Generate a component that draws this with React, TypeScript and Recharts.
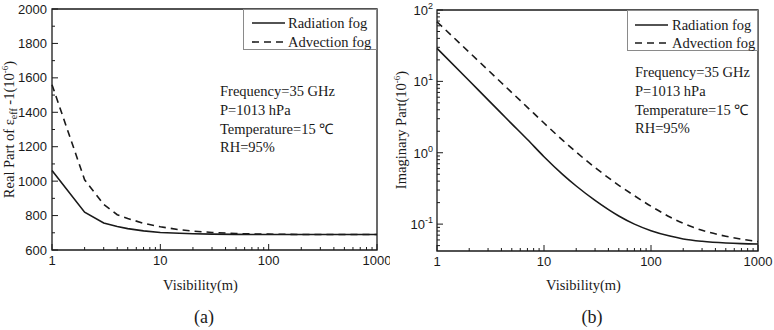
import React from "react";
import { LineChart, Line, XAxis, YAxis, ReferenceArea, Legend } from "recharts";

// visibility (m), log x-axis
const visibility = [1, 2, 3, 4, 5, 7, 10, 15, 20, 30, 50, 70, 100, 150, 200, 300, 500, 700, 1000];

// (a) real part of eps_eff - 1 (x 1e-6)
const realRadiation = [1062, 820, 757, 737, 724, 711, 702, 697, 694, 692, 691, 690, 690, 690, 690, 690, 690, 690, 690];
const realAdvection = [1560, 1008, 865, 805, 783, 755, 735, 718, 710, 702, 696, 693, 692, 691, 690, 690, 690, 690, 690];

// (b) imaginary part (x 1e-6)
const imagRadiation = [29, 10.2, 5.5, 3.56, 2.54, 1.53, 0.879, 0.494, 0.342, 0.215, 0.13, 0.1, 0.081, 0.068, 0.062, 0.0574, 0.0543, 0.0532, 0.0526];
const imagAdvection = [68.4, 25.6, 14.4, 9.57, 6.97, 4.33, 2.61, 1.49, 1.02, 0.621, 0.35, 0.25, 0.178, 0.126, 0.1026, 0.082, 0.0676, 0.0615, 0.0569];

const xTicks = [1, 2, 3, 4, 5, 6, 7, 8, 9, 10, 20, 30, 40, 50, 60, 70, 80, 90, 100, 200, 300, 400, 500, 600, 700, 800, 900, 1000];
const realTicks = [600, 700, 800, 900, 1000, 1100, 1200, 1300, 1400, 1500, 1600, 1700, 1800, 1900, 2000];
const imagTicks = [
  0.05, 0.06, 0.07, 0.08, 0.09, 0.1, 0.2, 0.3, 0.4, 0.5, 0.6, 0.7, 0.8, 0.9,
  1, 2, 3, 4, 5, 6, 7, 8, 9, 10, 20, 30, 40, 50, 60, 70, 80, 90, 100,
];

const notes = ["Frequency=35 GHz", "P=1013 hPa", "Temperature=15 \u2103", "RH=95%"];

const realData = visibility.map((v, i) => ({ v, radiation: realRadiation[i], advection: realAdvection[i] }));
const imagData = visibility.map((v, i) => ({ v, radiation: imagRadiation[i], advection: imagAdvection[i] }));

const SANS = "'Liberation Sans', Arial, sans-serif";
const SERIF = "'Liberation Serif', 'Times New Roman', serif";
const INK = "#1a1a1a";

const isDecade = (v: number) => Math.abs(Math.log10(v) - Math.round(Math.log10(v))) < 1e-9;

const XTick = (props: any) => {
  const { x, y, payload } = props;
  const major = isDecade(payload.value);
  return (
    <g>
      <line x1={x} x2={x} y1={y} y2={y - (major ? 6 : 3)} stroke={INK} strokeWidth={1} />
      {major && (
        <text x={x} y={y + 15} textAnchor="middle" fontFamily={SANS} fontSize={13} fill={INK}>
          {payload.value}
        </text>
      )}
    </g>
  );
};

const RealTick = (props: any) => {
  const { x, y, payload } = props;
  const major = payload.value % 200 === 0;
  return (
    <g>
      <line x1={x} x2={x + (major ? 6 : 3)} y1={y} y2={y} stroke={INK} strokeWidth={1} />
      {major && (
        <text x={x - 5} y={y + 4.5} textAnchor="end" fontFamily={SANS} fontSize={13} fill={INK}>
          {payload.value}
        </text>
      )}
    </g>
  );
};

const ImagTick = (props: any) => {
  const { x, y, payload } = props;
  const major = isDecade(payload.value);
  const exp = Math.round(Math.log10(payload.value));
  return (
    <g>
      <line x1={x} x2={x + (major ? 6 : 3)} y1={y} y2={y} stroke={INK} strokeWidth={1} />
      {major && (
        <text x={x - 4} y={y + 5} textAnchor="end" fontFamily={SANS} fontSize={13} fill={INK}>
          10
          <tspan fontSize={9} dy={-6}>{exp}</tspan>
        </text>
      )}
    </g>
  );
};

const LegendBox = ({ width, height, lineX, textX, rows }: any) => (
  <div
    style={{
      width,
      height,
      boxSizing: "border-box",
      border: "1px solid #8a8a8a",
      background: "#fff",
      position: "relative",
    }}
  >
    <svg width={width} height={height} style={{ position: "absolute", left: -1, top: -1 }}>
      <line x1={lineX} x2={lineX + 33} y1={rows[0]} y2={rows[0]} stroke={INK} strokeWidth={1.6} />
      <line x1={lineX} x2={lineX + 33} y1={rows[1]} y2={rows[1]} stroke={INK} strokeWidth={1.6} strokeDasharray="7 5" />
      <text x={textX} y={rows[0] + 5} fontFamily={SERIF} fontSize={14.5} fill={INK}>Radiation fog</text>
      <text x={textX} y={rows[1] + 5} fontFamily={SERIF} fontSize={14.5} fill={INK}>Advection fog</text>
    </svg>
  </div>
);

const Notes = ({ left, top }: { left: number; top: number }) => (
  <div
    style={{
      position: "absolute",
      left,
      top,
      fontFamily: SERIF,
      fontSize: 14.5,
      lineHeight: "18.8px",
      color: INK,
      whiteSpace: "nowrap",
    }}
  >
    {notes.map((n) => (
      <div key={n}>{n}</div>
    ))}
  </div>
);

const Caption = ({ left, text }: { left: number; text: string }) => (
  <div
    style={{
      position: "absolute",
      left: left - 30,
      width: 60,
      top: 306,
      textAlign: "center",
      fontFamily: SERIF,
      fontSize: 18,
      lineHeight: "22px",
      color: INK,
    }}
  >
    {text}
  </div>
);

const xTitle = (cx: number) => () => (
  <text x={cx} y={290} textAnchor="middle" fontFamily={SERIF} fontSize={14.5} fill={INK}>
    Visibility(m)
  </text>
);

const realYTitle = () => (
  <text
    x={14}
    y={129.5}
    transform="rotate(-90, 14, 129.5)"
    textAnchor="middle"
    fontFamily={SERIF}
    fontSize={14.5}
    fill={INK}
  >
    Real Part of {"\u03b5"}
    <tspan fontSize={10} dy={3}>eff</tspan>
    <tspan dy={-3}> -1(10</tspan>
    <tspan fontSize={9} dy={-6}>-6</tspan>
    <tspan dy={6}>)</tspan>
  </text>
);

const imagYTitle = () => (
  <text
    x={16}
    y={130}
    transform="rotate(-90, 16, 130)"
    textAnchor="middle"
    fontFamily={SERIF}
    fontSize={14.5}
    fill={INK}
  >
    Imaginary Part(10
    <tspan fontSize={9} dy={-6}>-6</tspan>
    <tspan dy={6}>)</tspan>
  </text>
);

export default function App() {
  return (
    <div style={{ position: "absolute", left: 0, top: 0, width: 774, height: 330, background: "#fff" }}>
      {/* (a) real part */}
      <div style={{ position: "absolute", left: 0, top: 0 }}>
        <LineChart width={390} height={330} data={realData} margin={{ top: 9, right: 13, bottom: 0, left: 0 }}>
          <XAxis
            dataKey="v"
            type="number"
            scale="log"
            domain={[1, 1000]}
            ticks={xTicks}
            interval={0}
            height={80}
            tickSize={0}
            tickMargin={0}
            tickLine={false}
            axisLine={false}
            tick={<XTick />}
            label={{ content: xTitle(200.5) }}
          />
          <YAxis
            type="number"
            domain={[600, 2000]}
            ticks={realTicks}
            interval={0}
            width={52}
            tickSize={0}
            tickMargin={0}
            tickLine={false}
            axisLine={false}
            tick={<RealTick />}
            label={{ content: realYTitle }}
          />
          <ReferenceArea x1={1} x2={1000} y1={600} y2={2000} fill="none" fillOpacity={0} stroke={INK} strokeWidth={1.3} strokeOpacity={1} ifOverflow="visible" />
          <Line type="linear" dataKey="radiation" stroke={INK} strokeWidth={1.6} dot={false} isAnimationActive={false} />
          <Line
            type="linear"
            dataKey="advection"
            stroke={INK}
            strokeWidth={1.6}
            strokeDasharray="7 5"
            dot={false}
            isAnimationActive={false}
          />
          <Legend
            layout="horizontal"
            verticalAlign="middle"
            align="center"
            wrapperStyle={{ left: 243, top: 9, width: 134, height: 41 }}
            content={() => <LegendBox width={134} height={41} lineX={9} textX={45} rows={[14, 33]} />}
          />
        </LineChart>
        <Notes left={220} top={82} />
        <Caption left={204} text="(a)" />
      </div>

      {/* (b) imaginary part */}
      <div style={{ position: "absolute", left: 390, top: 0, width: 384, height: 330 }}>
        <LineChart width={384} height={330} data={imagData} margin={{ top: 10, right: 16, bottom: 0, left: 0 }}>
          <XAxis
            dataKey="v"
            type="number"
            scale="log"
            domain={[1, 1000]}
            ticks={xTicks}
            interval={0}
            height={79}
            tickSize={0}
            tickMargin={0}
            tickLine={false}
            axisLine={false}
            tick={<XTick />}
            label={{ content: xTitle(193.5) }}
          />
          <YAxis
            type="number"
            scale="log"
            domain={[0.042, 100]}
            allowDataOverflow
            ticks={imagTicks}
            interval={0}
            width={47}
            tickSize={0}
            tickMargin={0}
            tickLine={false}
            axisLine={false}
            tick={<ImagTick />}
            label={{ content: imagYTitle }}
          />
          <ReferenceArea x1={1} x2={1000} y1={0.042} y2={100} fill="none" fillOpacity={0} stroke={INK} strokeWidth={1.3} strokeOpacity={1} ifOverflow="visible" />
          <Line type="monotone" dataKey="radiation" stroke={INK} strokeWidth={1.6} dot={false} isAnimationActive={false} />
          <Line
            type="monotone"
            dataKey="advection"
            stroke={INK}
            strokeWidth={1.6}
            strokeDasharray="7 5"
            dot={false}
            isAnimationActive={false}
          />
          <Legend
            layout="horizontal"
            verticalAlign="middle"
            align="center"
            wrapperStyle={{ left: 237, top: 10, width: 131, height: 41 }}
            content={() => <LegendBox width={131} height={41} lineX={8} textX={45} rows={[15, 33]} />}
          />
        </LineChart>
        <Notes left={245} top={63} />
        <Caption left={202} text="(b)" />
      </div>
    </div>
  );
}
